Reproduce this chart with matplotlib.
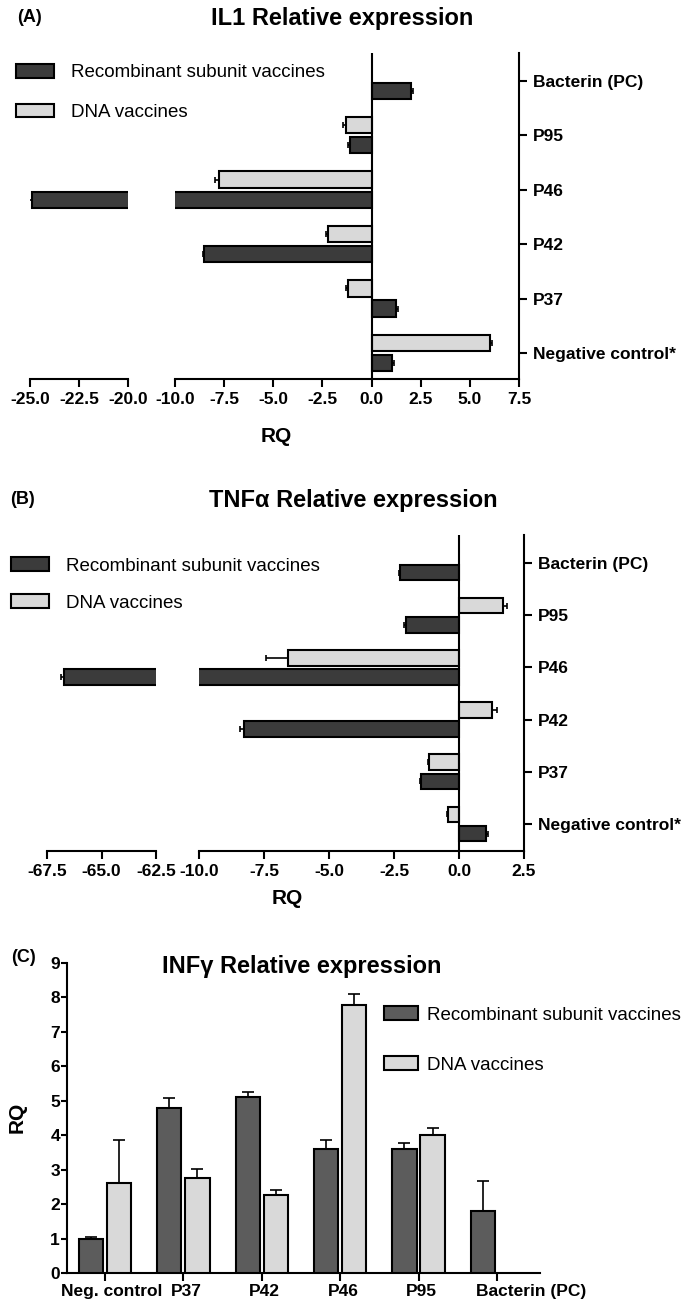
import numpy as np
import matplotlib
matplotlib.use('Agg')
import matplotlib.pyplot as plt
from matplotlib.transforms import ScaledTranslation

plt.rcParams['font.family'] = ['Liberation Sans', 'DejaVu Sans']

W, H = 694, 1305

# categories, bottom to top for the horizontal panels
hbar_cats = ['Negative control*', 'P37', 'P42', 'P46', 'P95', 'Bacterin (PC)']

# (A) IL1
il1_rec = [1.05, 1.25, -8.5, -24.9, -1.1, 2.0]
il1_rec_err = [0.08, 0.08, 0.08, 0.15, 0.1, 0.1]
il1_dna = [6.0, -1.2, -2.2, -7.75, -1.3, np.nan]
il1_dna_err = [0.13, 0.08, 0.1, 0.2, 0.13, np.nan]

# (B) TNFa
tnf_rec = [1.03, -1.45, -8.26, -66.7, -2.02, -2.26]
tnf_rec_err = [0.08, 0.05, 0.15, 0.17, 0.08, 0.05]
tnf_dna = [-0.43, -1.16, 1.28, -6.58, 1.68, np.nan]
tnf_dna_err = [0.05, 0.05, 0.17, 0.86, 0.17, np.nan]

# (C) INFg
inf_cats = ['Neg. control', 'P37', 'P42', 'P46', 'P95', 'Bacterin (PC)']
inf_rec = [1.0, 4.8, 5.12, 3.6, 3.6, 1.81]
inf_rec_err = [0.04, 0.27, 0.14, 0.25, 0.17, 0.85]
inf_dna = [2.6, 2.75, 2.26, 7.77, 4.02, np.nan]
inf_dna_err = [1.25, 0.27, 0.16, 0.34, 0.18, np.nan]

series_names = ['Recombinant subunit vaccines', 'DNA vaccines']

DARK = '#3b3b3b'
DARK_C = '#5c5c5c'
LIGHT = '#d9d9d9'
LW = 1.5


def px_axes(fig, x0, y0, x1, y1):
    return fig.add_axes([x0 / W, 1 - y1 / H, (x1 - x0) / W, (y1 - y0) / H])


def hbars(ax, vals, errs, offset, color):
    v = np.array(vals, dtype=float)
    e = np.array(errs, dtype=float)
    y = np.arange(len(v)) + offset
    ok = ~np.isnan(v)
    lo = np.where(v < 0, e, 0)[ok]
    hi = np.where(v >= 0, e, 0)[ok]
    b = ax.barh(y[ok], v[ok], height=0.3, color=color, edgecolor='black',
                linewidth=LW, zorder=3)
    ax.errorbar(v[ok], y[ok], xerr=[lo, hi], fmt='none', ecolor='black',
                elinewidth=1.2, capsize=2.5, capthick=1.2, zorder=2)
    return b


def broken_panel(fig, ytop, ybot, left_px, right_px, left_lim, right_lim,
                 left_ticks, right_ticks, ylim, rec, rec_err, dna, dna_err):
    axl = px_axes(fig, left_px[0], ytop, left_px[1], ybot)
    axr = px_axes(fig, right_px[0], ytop, right_px[1], ybot)
    handles = None
    for ax in (axl, axr):
        h1 = hbars(ax, rec, rec_err, -0.185, DARK)
        h2 = hbars(ax, dna, dna_err, 0.185, LIGHT)
        if ax is axr:
            handles = [h1, h2]
        ax.set_ylim(ylim)
        ax.spines['top'].set_visible(False)
        ax.spines['left'].set_visible(False)
        ax.spines['bottom'].set_linewidth(LW)
        ax.spines['right'].set_linewidth(LW)
        ax.tick_params(axis='x', length=6, width=LW, pad=3, labelsize=12.5)
    axl.set_xlim(left_lim)
    axl.spines['right'].set_visible(False)
    axl.set_yticks([])
    axl.set_xticks(left_ticks)
    axl.set_xticklabels([f'{t:.1f}' for t in left_ticks], fontweight='bold')

    axr.set_xlim(right_lim)
    axr.axvline(0, color='black', lw=LW, zorder=4)
    axr.set_xticks(right_ticks)
    axr.set_xticklabels([f'{t:.1f}' for t in right_ticks], fontweight='bold')
    axr.yaxis.tick_right()
    axr.set_yticks(range(len(hbar_cats)))
    axr.set_yticklabels(hbar_cats, fontweight='bold', fontsize=12.5)
    axr.tick_params(axis='y', length=6, width=LW, pad=4)
    return handles


fig = plt.figure(figsize=(W / 100, H / 100), dpi=100)

# ---------- (A) IL1 ----------
hA = broken_panel(fig, 53, 379, (30, 128), (175, 519), (-25, -20), (-10, 7.5),
                  [-25, -22.5, -20], np.arange(-10, 7.6, 2.5),
                  (-0.478, 5.51), il1_rec, il1_rec_err, il1_dna, il1_dna_err)
fig.text(17 / W, 1 - 18 / H, '(A)', fontsize=13, fontweight='bold', va='center')
fig.text(342 / W, 1 - 19 / H, 'IL1 Relative expression', fontsize=17,
         fontweight='bold', ha='center', va='center')
fig.text(276 / W, 1 - 437 / H, 'RQ', fontsize=15, fontweight='bold',
         ha='center', va='center')
fig.legend(hA, series_names, loc='center left',
           bbox_to_anchor=(16 / W, 1 - 92.5 / H), frameon=False, fontsize=13.5,
           handlelength=2.0, handleheight=0.75, handletextpad=0.95,
           labelspacing=1.2, borderpad=0, borderaxespad=0)

# ---------- (B) TNFa ----------
hB = broken_panel(fig, 535, 851, (47, 156), (199, 524), (-67.5, -62.5), (-10, 2.5),
                  [-67.5, -65, -62.5], np.arange(-10, 2.6, 2.5),
                  (-0.517, 5.536), tnf_rec, tnf_rec_err, tnf_dna, tnf_dna_err)
fig.text(10 / W, 1 - 500 / H, '(B)', fontsize=13, fontweight='bold', va='center')
fig.text(353 / W, 1 - 500 / H, 'TNF\u03b1 Relative expression', fontsize=17,
         fontweight='bold', ha='center', va='center')
fig.text(287 / W, 1 - 898 / H, 'RQ', fontsize=15, fontweight='bold',
         ha='center', va='center')
fig.legend(hB, series_names, loc='center left',
           bbox_to_anchor=(11 / W, 1 - 584.5 / H), frameon=False, fontsize=13.5,
           handlelength=2.0, handleheight=0.75, handletextpad=0.95,
           labelspacing=1.05, borderpad=0, borderaxespad=0)

# ---------- (C) INFg ----------
axc = px_axes(fig, 67, 963, 540, 1273)
x = np.arange(len(inf_cats))
rv = np.array(inf_rec)
re_ = np.array(inf_rec_err)
dv = np.array(inf_dna, dtype=float)
de = np.array(inf_dna_err, dtype=float)
ok = ~np.isnan(dv)
c1 = axc.bar(x - 0.18, rv, width=0.31, color=DARK_C, edgecolor='black', linewidth=LW, zorder=3)
axc.errorbar(x - 0.18, rv, yerr=[np.zeros_like(re_), re_], fmt='none', ecolor='black',
             elinewidth=1.2, capsize=4, capthick=1.2, zorder=2)
c2 = axc.bar(x[ok] + 0.18, dv[ok], width=0.31, color=LIGHT, edgecolor='black', linewidth=LW, zorder=3)
axc.errorbar(x[ok] + 0.18, dv[ok], yerr=[np.zeros(ok.sum()), de[ok]], fmt='none', ecolor='black',
             elinewidth=1.2, capsize=4, capthick=1.2, zorder=2)
axc.set_xlim(-0.485, 5.55)
axc.set_ylim(0, 9)
axc.spines['top'].set_visible(False)
axc.spines['right'].set_visible(False)
axc.spines['left'].set_linewidth(LW)
axc.spines['bottom'].set_linewidth(LW)
axc.set_yticks(range(10))
axc.set_yticklabels([str(i) for i in range(10)], fontweight='bold')
axc.set_xticks(x)
axc.set_xticklabels(inf_cats, fontweight='bold')
axc.tick_params(axis='y', length=4, width=LW, pad=1, labelsize=12.5)
axc.tick_params(axis='x', length=6, width=LW, pad=2, labelsize=12.5)
label_dx = [7, 3, 3, 3, 3, 34]
for lab, dx in zip(axc.get_xticklabels(), label_dx):
    lab.set_transform(lab.get_transform() + ScaledTranslation(dx / 100, 0, fig.dpi_scale_trans))

fig.text(11 / W, 1 - 958 / H, '(C)', fontsize=13, fontweight='bold', va='center')
fig.text(302 / W, 1 - 967 / H, 'INF\u03b3 Relative expression', fontsize=17,
         fontweight='bold', ha='center', va='center')
fig.text(17 / W, 1 - 1117 / H, 'RQ', fontsize=15, fontweight='bold',
         ha='center', va='center', rotation=90)
fig.legend([c1, c2], series_names, loc='center left',
           bbox_to_anchor=(384 / W, 1 - 1040 / H), frameon=False, fontsize=13.5,
           handlelength=1.8, handleheight=0.7, handletextpad=0.5,
           labelspacing=1.75, borderpad=0, borderaxespad=0)

fig.savefig('out.png', dpi=100)
